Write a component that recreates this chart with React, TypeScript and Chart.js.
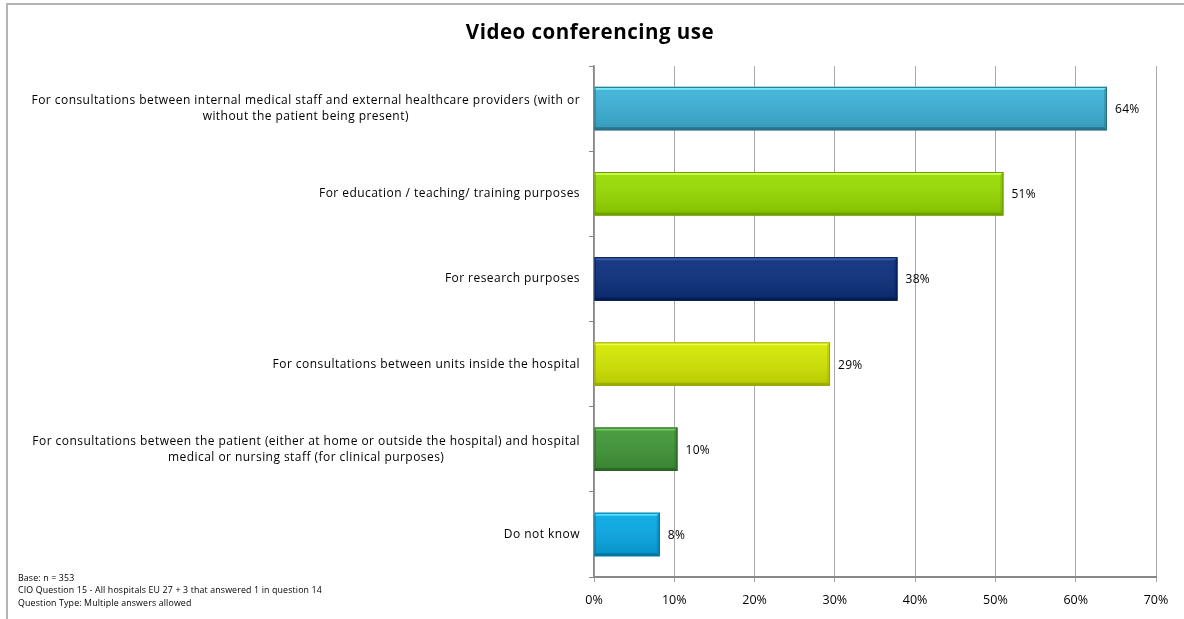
import React, { useEffect, useRef } from 'react';
import { Chart, registerables } from 'chart.js';

Chart.register(...registerables);

const TITLE = 'Video conferencing use';

const categories: string[][] = [
  ['For consultations between internal medical staff and external healthcare providers (with or', 'without the patient being present)'],
  ['For education / teaching/ training purposes'],
  ['For research purposes'],
  ['For consultations between units inside the hospital'],
  ['For consultations between the patient (either at home or outside the hospital) and hospital', 'medical or nursing staff (for clinical purposes)'],
  ['Do not know'],
];

const values = [63.9, 51.0, 37.8, 29.4, 10.4, 8.2];
const valueLabels = ['64%', '51%', '38%', '29%', '10%', '8%'];

const xMin = 0;
const xMax = 70;
const xStep = 10;

const footnotes = [
  'Base: n = 353',
  'CIO Question 15 - All hospitals EU 27 + 3 that answered 1 in question 14',
  'Question Type: Multiple answers allowed',
];

// styles
const FONT = '"Open Sans", Lato, sans-serif';
const barBase = ['#3BB2D8', '#98DC00', '#0A2E7C', '#D3E800', '#3F9636', '#06A9E6'];
const barLight = ['#7FF6FF', '#D2FF55', '#3E62B4', '#F6FF55', '#7DD468', '#5FE6FF'];
const barDark = ['#2A6C80', '#6C9C00', '#061B4E', '#98A800', '#2A6324', '#04729C'];

const bevelPlugin = {
  id: 'bevel',
  afterDatasetsDraw(chart: any) {
    const ctx = chart.ctx as CanvasRenderingContext2D;
    const meta = chart.getDatasetMeta(0);
    meta.data.forEach((el: any, i: number) => {
      const { x, y, base, height } = el.getProps(['x', 'y', 'base', 'height'], true);
      const l = Math.min(base, x);
      const r = Math.max(base, x);
      const t = y - height / 2;
      const b = y + height / 2;
      const e = 3;
      ctx.save();
      const g = ctx.createLinearGradient(0, t, 0, b);
      g.addColorStop(0, 'rgba(255,255,255,0.06)');
      g.addColorStop(1, 'rgba(0,0,0,0.14)');
      ctx.fillStyle = g;
      ctx.fillRect(l, t, r - l, b - t);
      // top bevel
      ctx.fillStyle = barLight[i];
      ctx.globalAlpha = 0.85;
      ctx.beginPath();
      ctx.moveTo(l, t);
      ctx.lineTo(r, t);
      ctx.lineTo(r - e, t + e);
      ctx.lineTo(l, t + e);
      ctx.closePath();
      ctx.fill();
      // bottom bevel
      ctx.fillStyle = barDark[i];
      ctx.beginPath();
      ctx.moveTo(l, b);
      ctx.lineTo(r, b);
      ctx.lineTo(r - e, b - e);
      ctx.lineTo(l, b - e);
      ctx.closePath();
      ctx.fill();
      // right bevel
      ctx.globalAlpha = 0.35;
      ctx.beginPath();
      ctx.moveTo(r, t);
      ctx.lineTo(r, b);
      ctx.lineTo(r - e, b - e);
      ctx.lineTo(r - e, t + e);
      ctx.closePath();
      ctx.fill();
      ctx.globalAlpha = 1;
      ctx.strokeStyle = barDark[i];
      ctx.lineWidth = 1;
      ctx.strokeRect(l + 0.5, t + 0.5, r - l - 1, b - t - 1);
      // value label
      ctx.fillStyle = '#000';
      ctx.font = `12px ${FONT}`;
      (ctx as any).letterSpacing = '0.3px';
      ctx.textAlign = 'left';
      ctx.textBaseline = 'middle';
      ctx.fillText(valueLabels[i], r + 8, y + 1);
      ctx.restore();
    });
  },
};

const labelsPlugin = {
  id: 'catLabels',
  afterDraw(chart: any) {
    const ctx = chart.ctx as CanvasRenderingContext2D;
    const yScale = chart.scales.y;
    const right = chart.chartArea.left - 14;
    const lh = 16;
    ctx.save();
    ctx.fillStyle = '#000';
    ctx.font = `12px ${FONT}`;
    (ctx as any).letterSpacing = '0.45px';
    ctx.textBaseline = 'middle';
    ctx.textAlign = 'left';
    categories.forEach((lines, i) => {
      const yc = yScale.getPixelForValue(i);
      const widths = lines.map((s) => ctx.measureText(s).width);
      const w = Math.max(...widths);
      const y0 = yc - ((lines.length - 1) * lh) / 2;
      lines.forEach((s, j) => ctx.fillText(s, right - w + (w - widths[j]) / 2, y0 + j * lh));
    });
    // footnotes
    ctx.font = `8.8px ${FONT}`;
    (ctx as any).letterSpacing = '0.15px';
    footnotes.forEach((s, j) => ctx.fillText(s, 18, 578 + j * 12.5));
    ctx.restore();
  },
};

export default function App() {
  const ref = useRef<HTMLCanvasElement>(null);
  useEffect(() => {
    if (!ref.current) return;
    const chart = new Chart(ref.current, {
      type: 'bar',
      data: {
        labels: categories,
        datasets: [
          {
            data: values,
            backgroundColor: barBase,
            borderWidth: 0,
            barPercentage: 0.51,
            categoryPercentage: 1,
          },
        ],
      },
      options: {
        indexAxis: 'y',
        responsive: false,
        animation: false,
        layout: { padding: { left: 0, right: 28, top: 66, bottom: 0 } },
        plugins: {
          legend: { display: false },
          tooltip: { enabled: false },
          title: { display: false },
        },
        scales: {
          x: {
            min: xMin,
            max: xMax,
            ticks: {
              stepSize: xStep,
              color: '#000',
              font: { family: FONT, size: 12.5 },
              padding: 11,
              callback: (v: any) => `${v}%`,
            },
            grid: { color: '#a8a8a8', lineWidth: 1, tickLength: 5, drawTicks: true },
            border: { color: '#888', width: 2 },
          },
          y: {
            ticks: { display: false },
            grid: { drawOnChartArea: false, drawTicks: true, tickLength: 5, color: '#888', offset: true },
            border: { color: '#888', width: 1.5 },
            afterFit: (s: any) => {
              s.width = 594;
            },
          },
        },
      },
      plugins: [
        bevelPlugin,
        labelsPlugin,
        {
          id: 'spacedTitle',
          afterDraw(chart: any) {
            const ctx = chart.ctx as CanvasRenderingContext2D;
            ctx.save();
            ctx.font = `bold 20.5px ${FONT}`;
            (ctx as any).letterSpacing = '0.5px';
            ctx.fillStyle = '#000';
            ctx.textAlign = 'center';
            ctx.textBaseline = 'middle';
            ctx.fillText(TITLE, chart.width / 2 - 2, 33);
            ctx.restore();
          },
        },
      ],
    });
    return () => chart.destroy();
  }, []);

  return (
    <div style={{ position: 'absolute', left: 0, top: 0, width: 1184, height: 619, overflow: 'hidden', background: '#fff' }}>
      <div
        style={{
          position: 'absolute',
          left: 6,
          top: 3,
          width: 1400,
          height: 800,
          border: '2px solid #b4b4b4',
        }}
      />
      <canvas ref={ref} width={1184} height={619} style={{ position: 'absolute', left: 0, top: 0 }} />
    </div>
  );
}
